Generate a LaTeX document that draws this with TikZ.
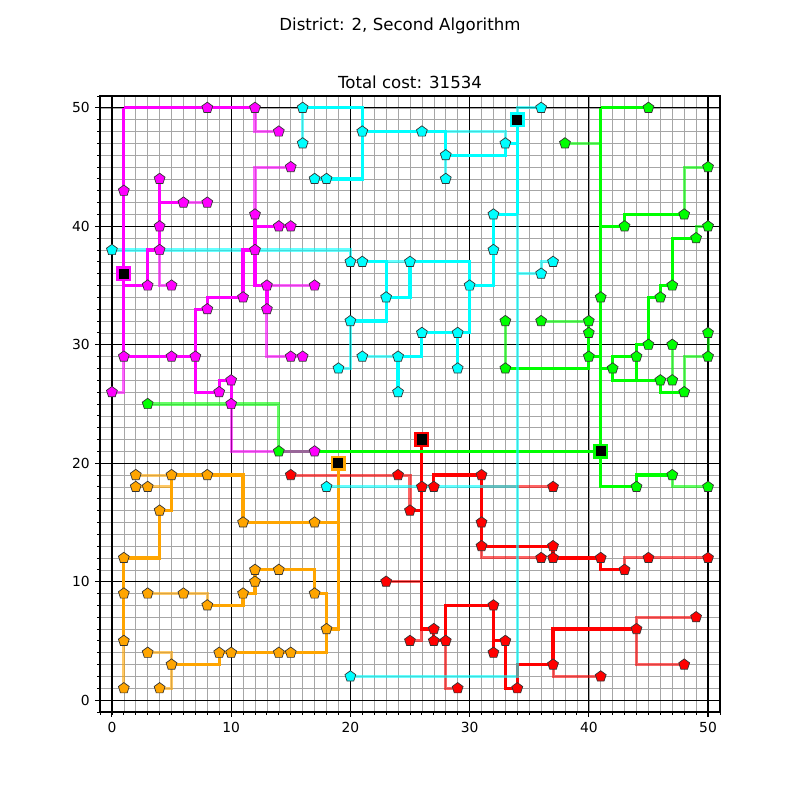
\documentclass[tikz,border=0pt]{standalone}
\usepackage{fontspec}
\setmainfont{DejaVu Sans}
\usetikzlibrary{shapes.geometric}
\definecolor{orng}{HTML}{FFA500}
\definecolor{mag}{HTML}{FF00FF}
\definecolor{cyn}{HTML}{00FFFF}
\definecolor{grn}{HTML}{00FF00}
\definecolor{rd}{HTML}{FF0000}
\begin{document}
\begin{tikzpicture}[x=0.302846cm,y=0.300892cm,
    route/.style={line width=2.3pt},
    faint/.style={line width=2.2pt,opacity=0.6},
    stop/.style={regular polygon,regular polygon sides=5,draw=black!80,line width=0.5pt,inner sep=0pt,minimum size=0.29cm},
    depot/.style={rectangle,fill=black,line width=1.8pt,inner sep=0pt,minimum size=0.32cm},
    ticklabel/.style={font=\fontsize{10}{12}\selectfont,inner sep=0pt}]
    \useasboundingbox (-9.387,-8.429) rectangle (57.713,59.104);
    \fill[white] (-9.387,-8.429) rectangle (57.713,59.104);
    % --- grid, frame and ticks
    \draw[black!35,line width=0.45pt,step=1] (-1,-1) grid (51,51);
    \foreach \v in {0,10,...,50} {
      \draw[black,line width=0.9pt] (\v,-1) -- (\v,51);
      \draw[black,line width=0.9pt] (-1,\v) -- (51,\v);
    }
    \foreach \v in {-1,...,51} {
      \draw[line width=0.6pt] (\v,-1) -- ++(0,-2pt);
      \draw[line width=0.6pt] (-1,\v) -- ++(-2pt,0);
    }
    \foreach \v in {0,10,...,50} {
      \draw[line width=0.8pt] (\v,-1) -- ++(0,-3.5pt) node[ticklabel,anchor=north,yshift=-3.5pt] (xt\v) {\v};
      \draw[line width=0.8pt] (-1,\v) -- ++(-3.5pt,0) node[ticklabel,anchor=east,xshift=-3.5pt] (yt\v) {\v};
    }
    \draw[line width=0.8pt] (-1,-1) rectangle (51,51);
    \node[font=\fontsize{12}{14}\selectfont,anchor=base] (total) at (25,51.65) {Total cost: 31534};
    \node[font=\fontsize{12}{14}\selectfont,anchor=base] (district) at (24.16,56.51) {District: 2, Second Algorithm};
    % --- red routes
    \begin{scope}[rd]
      \draw[route] (26,22) -- (26,6) -- (27,6) -- (27,5) -- (28,5);
      \draw[route] (26,16) -- (25,16);
      \draw[route] (27,18) -- (27,19) -- (31,19) -- (31,13) -- (37,13) -- (37,12) -- (41,12) -- (41,11) -- (43,11);
      \draw[route] (28,5) -- (28,8) -- (32,8) -- (32,4);
      \draw[route] (32,5) -- (33,5) -- (33,1) -- (34,1) -- (34,3) -- (37,3) -- (37,6) -- (44,6);
      \draw[faint] (15,19) -- (25,19) -- (25,16);
      \draw[faint] (31,13) -- (31,12) -- (36,12);
      \draw[faint] (31,18) -- (37,18);
      \draw[faint] (43,11) -- (43,12) -- (50,12);
      \draw[faint] (23,10) -- (26,10);
      \draw[faint] (25,5) -- (26,5) -- (26,6);
      \draw[faint] (28,5) -- (28,1) -- (29,1);
      \draw[faint] (44,6) -- (44,7) -- (49,7);
      \draw[faint] (44,6) -- (44,3) -- (48,3);
      \draw[faint] (37,3) -- (37,2) -- (41,2);
    \end{scope}
    % --- orange routes
    \begin{scope}[orng]
      \draw[route] (19,20) -- (19,6) -- (18,6);
      \draw[route] (19,15) -- (11,15) -- (11,19) -- (5,19) -- (5,16) -- (4,16) -- (4,12) -- (1,12) -- (1,5);
      \draw[route] (18,6) -- (18,9) -- (17,9) -- (17,11) -- (12,11) -- (12,9) -- (11,9) -- (11,8) -- (8,8);
      \draw[route] (18,6) -- (18,4) -- (9,4) -- (9,3) -- (5,3);
      \draw[faint] (2,19) -- (5,19);
      \draw[faint] (2,18) -- (5,18);
      \draw[faint] (1,5) -- (1,1);
      \draw[faint] (8,8) -- (8,9) -- (3,9);
      \draw[faint] (5,3) -- (5,4) -- (3,4);
      \draw[faint] (5,3) -- (5,1) -- (4,1);
    \end{scope}
    % --- green routes
    \begin{scope}[grn]
      \draw[route] (41,50) -- (41,18) -- (44,18) -- (44,19) -- (47,19);
      \draw[route] (41,50) -- (45,50);
      \draw[route] (41,40) -- (43,40) -- (43,41) -- (48,41);
      \draw[route] (47,35) -- (47,39) -- (49,39);
      \draw[route] (47,35) -- (46,35) -- (46,34) -- (45,34) -- (45,30) -- (44,30) -- (44,27);
      \draw[route] (44,29) -- (42,29) -- (42,27) -- (46,27) -- (46,26) -- (48,26);
      \draw[route] (41,28) -- (42,28);
      \draw[route] (40,29) -- (41,29);
      \draw[route] (40,32) -- (40,28) -- (33,28);
      \draw[route] (14,21) -- (41,21);
      \draw[faint] (38,47) -- (41,47);
      \draw[faint] (50,45) -- (48,45) -- (48,41);
      \draw[faint] (49,39) -- (49,40) -- (50,40);
      \draw[faint] (36,32) -- (40,32);
      \draw[faint] (33,32) -- (33,28);
      \draw[faint] (47,30) -- (47,27);
      \draw[faint] (48,26) -- (48,29) -- (50,29) -- (50,31);
      \draw[faint] (3,25) -- (14,25) -- (14,21);
      \draw[faint] (47,19) -- (47,18) -- (50,18);
    \end{scope}
    % --- cyan routes
    \begin{scope}[cyn]
      \draw[route] (34,49) -- (34,41);
      \draw[route] (16,50) -- (21,50) -- (21,44) -- (17,44);
      \draw[route] (21,48) -- (28,48) -- (28,46) -- (33,46) -- (33,47) -- (34,47);
      \draw[route] (32,41) -- (34,41);
      \draw[route] (32,41) -- (32,35) -- (30,35);
      \draw[route] (21,37) -- (23,37) -- (23,32) -- (20,32);
      \draw[route] (23,34) -- (25,34) -- (25,37) -- (30,37) -- (30,31) -- (26,31) -- (26,29) -- (24,29) -- (24,26);
      \draw[route] (29,31) -- (29,28);
      \draw[faint] (34,41) -- (34,2) -- (20,2);
      \draw[faint] (16,47) -- (16,50);
      \draw[faint] (28,48) -- (33,48) -- (33,47);
      \draw[faint] (28,46) -- (28,44);
      \draw[faint] (34,49) -- (34,50) -- (36,50);
      \draw[faint] (34,36) -- (36,36) -- (36,37) -- (37,37);
      \draw[faint] (0,38) -- (20,38) -- (20,37);
      \draw[faint] (23,37) -- (25,37);
      \draw[faint] (24,29) -- (21,29);
      \draw[faint] (20,32) -- (20,28) -- (19,28);
      \draw[faint] (18,18) -- (34,18);
    \end{scope}
    % --- magenta routes
    \begin{scope}[mag]
      \draw[route] (1,50) -- (1,29);
      \draw[route] (1,50) -- (12,50);
      \draw[route] (1,35) -- (3,35) -- (3,38) -- (4,38) -- (4,44);
      \draw[route] (4,42) -- (6,42);
      \draw[route] (12,41) -- (12,35) -- (13,35) -- (13,33);
      \draw[route] (12,38) -- (11,38) -- (11,34) -- (8,34) -- (8,33) -- (7,33) -- (7,26) -- (9,26) -- (9,27) -- (10,27) -- (10,25);
      \draw[route] (1,29) -- (7,29);
      \draw[route] (12,40) -- (15,40);
      \draw[faint] (12,50) -- (12,48) -- (14,48);
      \draw[faint] (6,42) -- (8,42);
      \draw[faint] (12,41) -- (12,45) -- (15,45);
      \draw[faint] (4,38) -- (4,35) -- (5,35);
      \draw[faint] (13,35) -- (17,35);
      \draw[faint] (13,33) -- (13,29) -- (16,29);
      \draw[faint] (1,29) -- (1,26) -- (0,26);
      \draw[faint] (10,25) -- (10,21) -- (17,21);
    \end{scope}
    % --- customers
    \foreach \x/\y [count=\i] in {15/19,24/19,31/19,25/16,26/18,27/18,37/18,31/15,31/13,37/13,36/12,37/12,41/12,43/11,45/12,50/12,23/10,32/8,33/5,32/4,25/5,27/6,27/5,28/5,29/1,34/1,37/3,41/2,44/6,49/7,48/3}
      \node[stop,fill=rd] (red\i) at (\x,\y) {};
    \foreach \x/\y [count=\i] in {2/19,2/18,3/18,5/19,8/19,4/16,1/12,11/15,17/15,12/11,14/11,12/10,1/9,3/9,6/9,8/8,11/9,17/9,18/6,1/5,3/4,5/3,4/1,1/1,9/4,10/4,14/4,15/4}
      \node[stop,fill=orng] (orng\i) at (\x,\y) {};
    \foreach \x/\y [count=\i] in {45/50,38/47,48/41,50/45,43/40,49/39,50/40,47/35,46/34,41/34,33/32,36/32,40/32,40/31,40/29,42/28,33/28,44/29,45/30,47/30,46/27,47/27,48/26,50/31,50/29,3/25,14/21,44/18,47/19,50/18}
      \node[stop,fill=grn] (grn\i) at (\x,\y) {};
    \foreach \x/\y [count=\i] in {16/50,16/47,17/44,18/44,21/48,26/48,28/46,28/44,33/47,36/50,32/41,32/38,0/38,20/37,21/37,25/37,23/34,30/35,36/36,37/37,20/32,21/29,24/29,24/26,26/31,29/31,29/28,19/28,18/18,20/2}
      \node[stop,fill=cyn] (cyn\i) at (\x,\y) {};
    \foreach \x/\y [count=\i] in {8/50,12/50,14/48,1/43,4/44,6/42,8/42,4/40,12/41,14/40,15/40,15/45,4/38,12/38,3/35,5/35,13/35,17/35,8/33,11/34,13/33,1/29,5/29,7/29,15/29,16/29,0/26,9/26,10/27,10/25,17/21}
      \node[stop,fill=mag] (mag\i) at (\x,\y) {};
    % --- depots
    \node[depot,draw=rd] (reddepot) at (26,22) {};
    \node[depot,draw=orng] (orngdepot) at (19,20) {};
    \node[depot,draw=grn] (grndepot) at (41,21) {};
    \node[depot,draw=cyn] (cyndepot) at (34,49) {};
    \node[depot,draw=mag] (magdepot) at (1,36) {};
  \end{tikzpicture}
\end{document}
